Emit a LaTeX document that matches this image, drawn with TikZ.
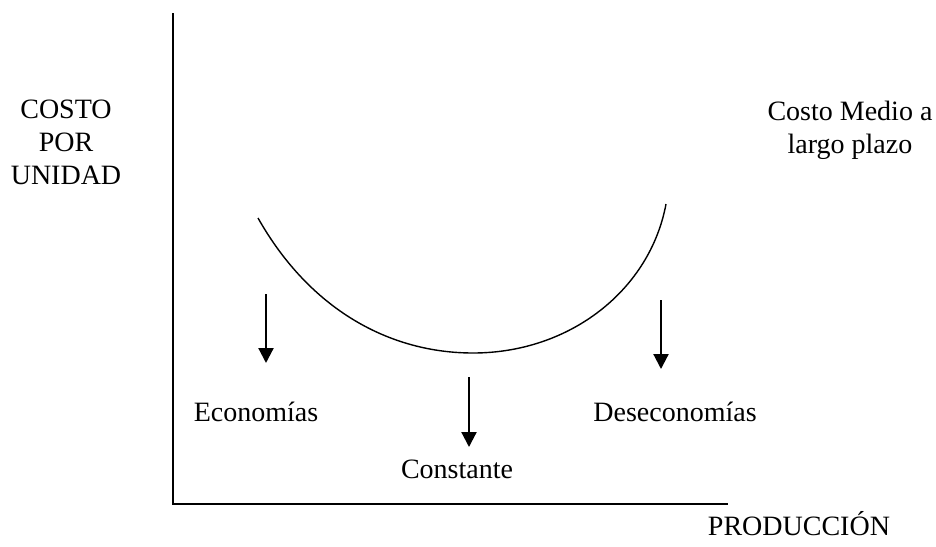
\documentclass[tikz,border=0pt]{standalone}
\usepackage{fontspec}
\setmainfont{Liberation Serif}
\usetikzlibrary{arrows.meta}
\begin{document}
\begin{tikzpicture}[x=1pt,y=-1pt,
  etiqueta/.style={inner sep=0pt, align=center,
                   font=\fontsize{28}{33}\selectfont},
  flecha/.style={line width=2.2pt, -{Triangle[width=15pt,length=15pt]}}]
\useasboundingbox (0,0) rectangle (936,546);
% ejes
\coordinate (O)    at (173,504);
\coordinate (ytop) at (173,13);
\coordinate (xend) at (728,504);
\draw[line width=1.8pt] (ytop) -- (O) -- (xend);
% curva de costo medio a largo plazo
\draw[line width=1.4pt] (258,218) .. controls (310,310) and (390,353) .. (473,353)
     .. controls (570,353) and (650,290) .. (666,204);
% textos
\node[etiqueta, anchor=north] (costo) at (66,100) {COSTO\\POR\\UNIDAD};
\node[etiqueta, anchor=north] (medio) at (850,101) {Costo Medio a\\largo plazo};
\node[etiqueta, anchor=base] (eco)   at (256,421) {Economías};
\node[etiqueta, anchor=base] (cte)   at (457,478) {Constante};
\node[etiqueta, anchor=base] (deseco) at (675,421) {Deseconomías};
\node[etiqueta, anchor=base] (prod)  at (799,535) {PRODUCCIÓN};
% flechas
\coordinate (e1) at (266,294); \coordinate (e2) at (266,363);
\coordinate (c1) at (469,377); \coordinate (c2) at (469,447);
\coordinate (d1) at (661,300); \coordinate (d2) at (661,369);
\draw[flecha] (e1) -- (e2);
\draw[flecha] (c1) -- (c2);
\draw[flecha] (d1) -- (d2);
\end{tikzpicture}
\end{document}
